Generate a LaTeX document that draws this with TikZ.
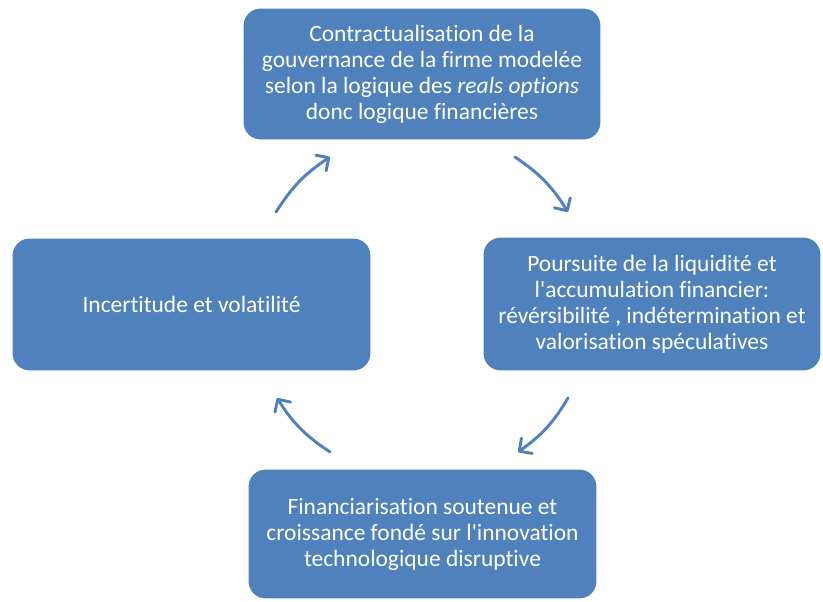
\documentclass[tikz,border=0pt]{standalone}
\usepackage{fontspec}
\setmainfont{Carlito}[Ligatures={NoCommon}]
\usetikzlibrary{arrows.meta}

\definecolor{boxblue}{HTML}{4F81BD}

\tikzset{
  etape/.style={rounded corners=13pt, fill=boxblue, draw=white, line width=0.8pt,
    text=white, align=center, inner sep=0pt,
    font=\fontsize{17.6}{19.5}\selectfont},
  fleche/.style={draw=boxblue, line width=2.2pt, line cap=round,
    -{Straight Barb[length=7pt,width=14pt,round]}}
}

\begin{document}
\begin{tikzpicture}[x=0.75pt,y=-0.75pt]
\useasboundingbox (0,0) rectangle (823,601);

% les quatre etapes du cycle
\node[etape, minimum width=268.5pt, minimum height=99pt] (contrat) at (422,74)
  {Contractualisation de la\\gouvernance de la firme modelée\\selon la logique des \textit{reals options}\\donc logique financières};
\node[etape, minimum width=253.5pt, minimum height=100.5pt] (liquidite) at (652,304)
  {Poursuite de la liquidité et\\l\textquotesingle accumulation financier:\\révérsibilité , indétermination et\\valorisation spéculatives};
\node[etape, minimum width=261.75pt, minimum height=97.5pt] (financ) at (422.5,534)
  {Financiarisation soutenue et\\croissance fondé sur l\textquotesingle innovation\\technologique disruptive};
\node[etape, minimum width=269.25pt, minimum height=99.75pt] (incert) at (191.5,304.5)
  {Incertitude et volatilité};

% extremites des fleches
\coordinate (a1) at (515,157); \coordinate (b1) at (568,212);
\coordinate (a2) at (568,398); \coordinate (b2) at (518,452);
\coordinate (a3) at (330,452); \coordinate (b3) at (277,398);
\coordinate (a4) at (276,212); \coordinate (b4) at (330,157);

\draw[fleche] (a1) to[bend left=12] (b1);
\draw[fleche] (a2) to[bend left=12] (b2);
\draw[fleche] (a3) to[bend left=12] (b3);
\draw[fleche] (a4) to[bend left=12] (b4);
\end{tikzpicture}
\end{document}
